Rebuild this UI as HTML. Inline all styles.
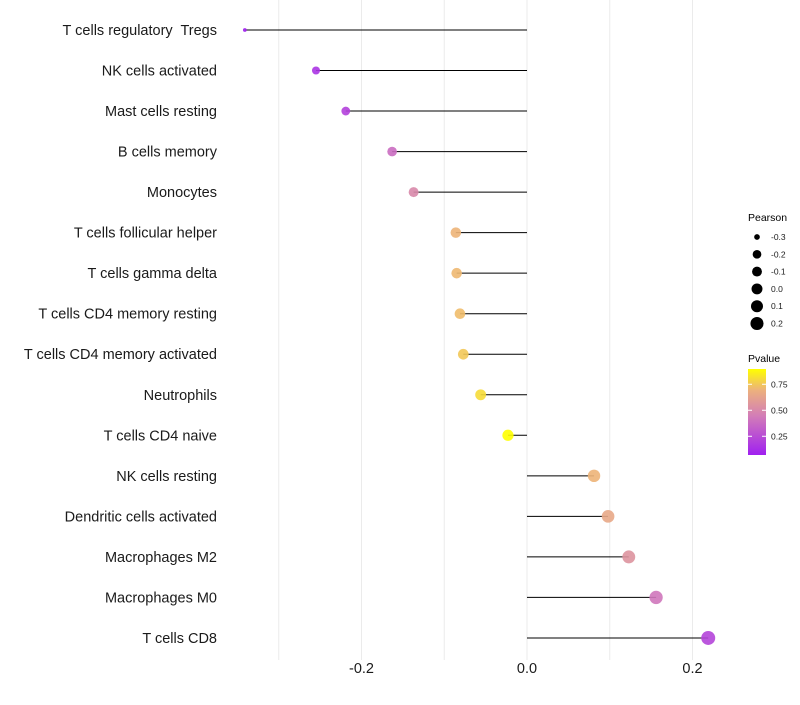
<!DOCTYPE html>
<html><head><meta charset="utf-8"><style>
body{margin:0;background:#fff;font-family:"Liberation Sans",sans-serif}
text{white-space:pre}
</style></head><body>
<svg id="chart" width="800" height="700" xmlns="http://www.w3.org/2000/svg">
<defs><linearGradient id="pg" x1="0" y1="1" x2="0" y2="0">
<stop offset="0" stop-color="#a020f0"/><stop offset="0.45" stop-color="#d27cb8"/><stop offset="0.75" stop-color="#ecb07e"/><stop offset="1" stop-color="#ffff00"/></linearGradient></defs>
<g id="grid"></g><g id="marks"></g><g id="labels"></g><g id="legend"></g>
</svg>
<script>
const categories=["T cells regulatory  Tregs","NK cells activated","Mast cells resting","B cells memory","Monocytes","T cells follicular helper","T cells gamma delta","T cells CD4 memory resting","T cells CD4 memory activated","Neutrophils","T cells CD4 naive","NK cells resting","Dendritic cells activated","Macrophages M2","Macrophages M0","T cells CD8"];
const pearson=[-0.341,-0.255,-0.219,-0.163,-0.137,-0.086,-0.085,-0.081,-0.077,-0.056,-0.023,0.081,0.098,0.123,0.156,0.219];
const pvalue=[0.07,0.15,0.2,0.38,0.5,0.7,0.71,0.72,0.75,0.8,0.89,0.7,0.65,0.55,0.42,0.22];
const xTicks=[-0.2,0,0.2];
const xTickLabels=["-0.2","0.0","0.2"];
const gridVals=[-0.3,-0.2,-0.1,0,0.1,0.2];
const sizeLegend=[-0.3,-0.2,-0.1,0,0.1,0.2];
const sizeLegendLabels=["-0.3","-0.2","-0.1","0.0","0.1","0.2"];
const colorTicks=[0.25,0.5,0.75];
const colorTickLabels=["0.25","0.50","0.75"];

const NS="http://www.w3.org/2000/svg";
const x=v=>527+v*827.5;
const y=i=>30+i*40.53;
const sizeKnots=[[-0.345,3],[-0.3,9],[-0.25,17],[-0.2,21],[-0.1,27],[0,33],[0.1,40],[0.22,49]];
function rad(v){for(let k=0;k<sizeKnots.length-1;k++){const[a,ra]=sizeKnots[k],[b,rb]=sizeKnots[k+1];if(v<=b){const t=Math.max(0,(v-a)/(b-a));return Math.sqrt(ra+(rb-ra)*t);}}return 7;}
const stops=[[0.07,[160,32,240]],[0.44,[210,124,184]],[0.69,[236,176,126]],[0.89,[255,255,0]]];
function col(p){p=Math.max(0.07,Math.min(0.89,p));for(let k=0;k<stops.length-1;k++){const[a,ca]=stops[k],[b,cb]=stops[k+1];if(p<=b){const t=(p-a)/(b-a);return`rgb(${ca.map((c,j)=>Math.round(c+(cb[j]-c)*t)).join(",")})`;}}return"rgb(255,255,0)";}
const cy=p=>455-(p-0.07)*104;
function mk(tag,attrs,parent,text){const e=document.createElementNS(NS,tag);for(const k in attrs)e.setAttribute(k,attrs[k]);if(text!==undefined)e.textContent=text;document.getElementById(parent).appendChild(e);return e;}

gridVals.forEach(v=>{const e=mk("line",{x1:x(v),x2:x(v),y1:0,y2:660,stroke:"#ebebeb","stroke-width":1},"grid");

});
categories.forEach((c,i)=>{
 const l=mk("line",{x1:x(0),x2:x(pearson[i]),y1:y(i),y2:y(i),stroke:"#000","stroke-width":1},"marks");
 
 
 const p=mk("circle",{cx:x(pearson[i]),cy:y(i),r:rad(pearson[i]),fill:col(pvalue[i]),opacity:0.9},"marks");
 
 
 const t=mk("text",{x:217,y:y(i)+5,"text-anchor":"end","font-size":"14.5",fill:"#1a1a1a"},"labels",c);
 
 
});
xTicks.forEach((v,i)=>{const t=mk("text",{x:x(v),y:673,"text-anchor":"middle","font-size":"14.5",fill:"#1a1a1a"},"labels",xTickLabels[i]);

});
const lt=mk("text",{x:748,y:221,"font-size":"10.5",fill:"#000"},"legend","Pearson");


sizeLegend.forEach((v,i)=>{const yy=237+i*17.3;
 const c=mk("circle",{cx:757,cy:yy,r:rad(v)*0.95,fill:"#000"},"legend");
 
 
 const t=mk("text",{x:771,y:yy+3,"font-size":"8.5",fill:"#1a1a1a"},"legend",sizeLegendLabels[i]);
 
 });
const pt=mk("text",{x:748,y:362,"font-size":"10.5",fill:"#000"},"legend","Pvalue");


const bar=mk("rect",{x:748,y:369,width:18,height:86,fill:"url(#pg)"},"legend");


colorTicks.forEach((v,i)=>{const yy=cy(v);
 const a=mk("line",{x1:748,x2:752,y1:yy,y2:yy,stroke:"#fff","stroke-width":1},"legend");
 
 
 const b=mk("line",{x1:762,x2:766,y1:yy,y2:yy,stroke:"#fff","stroke-width":1},"legend");
 
 
 const t=mk("text",{x:771,y:yy+3,"font-size":"8.5",fill:"#1a1a1a"},"legend",colorTickLabels[i]);
 
 });
</script>
</body></html>
